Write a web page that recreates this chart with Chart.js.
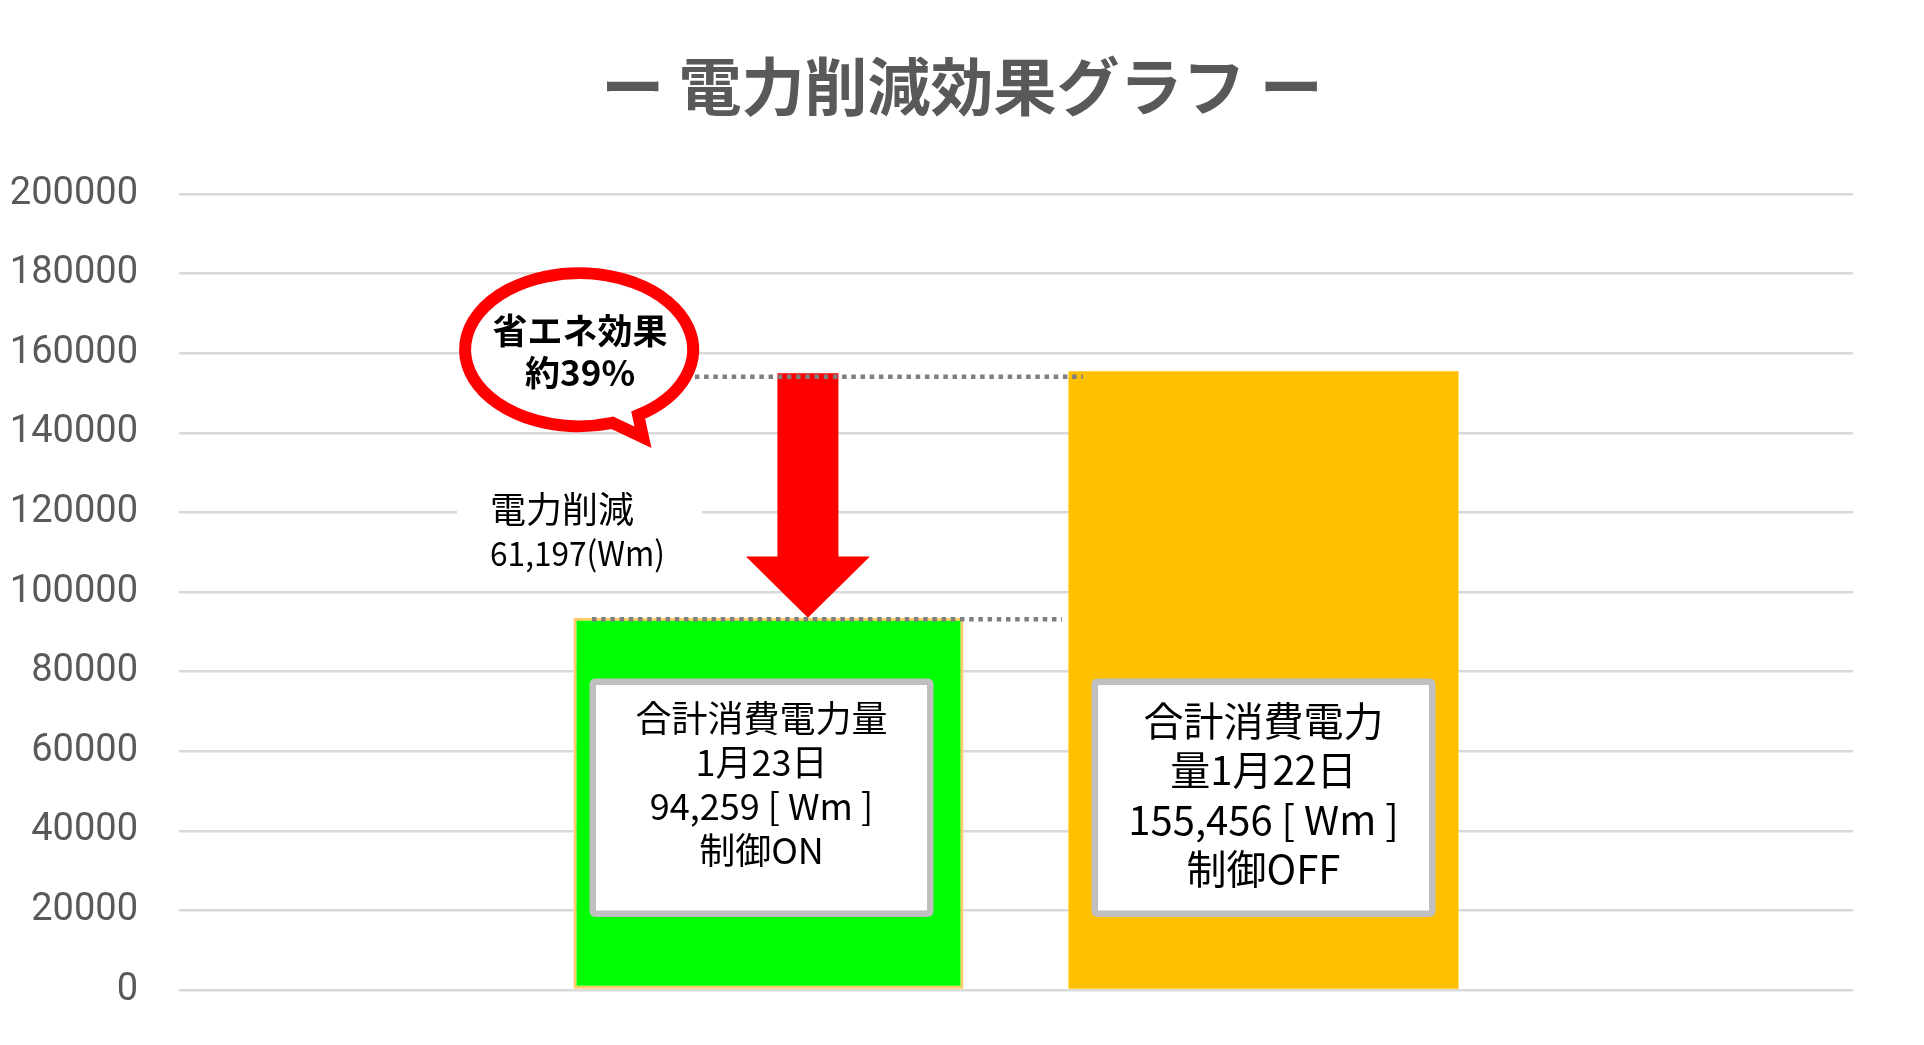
<!DOCTYPE html>
<html>
<head>
<meta charset="utf-8">
<script src="https://cdn.jsdelivr.net/npm/chart.js@4.4.1/dist/chart.umd.min.js"></script>
<style>
html,body{margin:0;padding:0;background:#ffffff;overflow:hidden}
canvas{display:block}
</style>
</head>
<body>
<canvas id="c" width="1924" height="1045" style="width:1924px;height:1045px"></canvas>
<script>
// ---- data ----
const categories = [''];
const seriesNames = ['制御ON', '制御OFF'];
const controlOnValues = [93500];
const controlOffValues = [155456];
const yTickValues = [0, 20000, 40000, 60000, 80000, 100000, 120000, 140000, 160000, 180000, 200000];
const titleText = 'ー 電力削減効果グラフ ー';
const boxLinesOn = ['合計消費電力量', '1月23日', '94,259 [ Wm ]', '制御ON'];
const boxLinesOff = ['合計消費電力', '量1月22日', '155,456 [ Wm ]', '制御OFF'];
const bubbleLines = ['省エネ効果', '約39%'];
const reductionLines = ['電力削減', '61,197(Wm)'];

const JP = "'Noto Sans CJK JP', 'Noto Sans', sans-serif";

const annotPlugin = {
  id: 'annot',
  afterDatasetsDraw(chart) {
    const ctx = chart.ctx;
    const ca = chart.chartArea;
    const ys = chart.scales.y;
    const X = f => ca.left + f * ca.width;
    const Y = v => ys.getPixelForValue(v);
    const barOn = chart.getDatasetMeta(0).data[0];
    const barOff = chart.getDatasetMeta(1).data[0];

    ctx.save();

    function roundRect(x, y, w, h, r) {
      ctx.beginPath();
      ctx.moveTo(x + r, y);
      ctx.lineTo(x + w - r, y);
      ctx.quadraticCurveTo(x + w, y, x + w, y + r);
      ctx.lineTo(x + w, y + h - r);
      ctx.quadraticCurveTo(x + w, y + h, x + w - r, y + h);
      ctx.lineTo(x + r, y + h);
      ctx.quadraticCurveTo(x, y + h, x, y + h - r);
      ctx.lineTo(x, y + r);
      ctx.quadraticCurveTo(x, y, x + r, y);
      ctx.closePath();
    }
    function drawBox(cx, lines, fontSize, gap, firstOffset) {
      const w = 344;
      const top = Y(78240), bottom = Y(18360);
      const lw = 6.5;
      roundRect(cx - w / 2 + lw / 2, top + lw / 2, w - lw, bottom - top - lw, 3);
      ctx.fillStyle = '#ffffff';
      ctx.fill();
      ctx.lineWidth = lw;
      ctx.strokeStyle = '#bfbfbf';
      ctx.stroke();
      ctx.fillStyle = '#000000';
      ctx.textAlign = 'center';
      ctx.textBaseline = 'middle';
      ctx.font = `400 ${fontSize}px ${JP}`;
      lines.forEach((t, i) => ctx.fillText(t, cx, top + firstOffset + i * gap));
    }
    drawBox(barOn.x - 7, boxLinesOn, 36, 44, 40);
    drawBox(barOff.x, boxLinesOff, 40, 49.5, 42);

    // red arrow
    const ax = X(0.3757);
    const aTop = Y(154970), aHead = Y(108930), aTip = barOn.y;
    const sh = 30.5, hh = 62;
    ctx.beginPath();
    ctx.moveTo(ax - sh, aTop);
    ctx.lineTo(ax + sh, aTop);
    ctx.lineTo(ax + sh, aHead);
    ctx.lineTo(ax + hh, aHead);
    ctx.lineTo(ax, aTip);
    ctx.lineTo(ax - hh, aHead);
    ctx.lineTo(ax - sh, aHead);
    ctx.closePath();
    ctx.fillStyle = '#ff0000';
    ctx.fill();

    // dotted level lines
    ctx.setLineDash([4.5, 4.7]);
    ctx.strokeStyle = '#7f7f7f';
    ctx.lineWidth = 4.5;
    ctx.beginPath();
    const yTop = Y(154090);
    ctx.moveTo(X(0.3082), yTop);
    ctx.lineTo(X(0.5400), yTop);
    ctx.stroke();
    ctx.beginPath();
    const yBot = barOn.y + 1.5;
    ctx.moveTo(X(0.2467), yBot);
    ctx.lineTo(X(0.5275), yBot);
    ctx.stroke();
    ctx.setLineDash([]);

    // speech bubble
    const bcx = X(0.2390), bcy = Y(160880);
    const rx = 114, ry = 76.5;
    const aR = 58.8 * Math.PI / 180, aL = 73 * Math.PI / 180;
    const tipX = X(0.2772), tipY = Y(138870);
    ctx.beginPath();
    ctx.ellipse(bcx, bcy, rx, ry, 0, aL, aR, false);
    ctx.lineTo(tipX, tipY);
    ctx.closePath();
    ctx.fillStyle = '#ffffff';
    ctx.fill();
    ctx.lineWidth = 12;
    ctx.lineJoin = 'miter';
    ctx.strokeStyle = '#ff0000';
    ctx.stroke();
    ctx.fillStyle = '#000000';
    ctx.textAlign = 'center';
    ctx.textBaseline = 'middle';
    ctx.font = `700 35px ${JP}`;
    ctx.fillText(bubbleLines[0], bcx + 1, bcy - 18.5);
    ctx.fillText(bubbleLines[1], bcx + 1, bcy + 23.5);

    // reduction label
    ctx.fillStyle = '#ffffff';
    const lx0 = X(0.1661), lx1 = X(0.3124);
    const ly0 = Y(128300), ly1 = Y(103140);
    ctx.fillRect(lx0, ly0, lx1 - lx0, ly1 - ly0);
    ctx.fillStyle = '#000000';
    ctx.textAlign = 'left';
    ctx.font = `400 36px ${JP}`;
    ctx.fillText(reductionLines[0], X(0.1858), Y(120754), 148);
    ctx.font = `400 34px ${JP}`;
    ctx.fillText(reductionLines[1], X(0.1858), Y(109690), 175);

    ctx.restore();
  }
};

new Chart(document.getElementById('c'), {
  type: 'bar',
  data: {
    labels: categories,
    datasets: [
      {
        label: seriesNames[0],
        data: controlOnValues,
        backgroundColor: '#00ff00',
        borderColor: '#ffcc66',
        borderWidth: 3,
        borderSkipped: false,
        categoryPercentage: 0.5914,
        barPercentage: 0.788
      },
      {
        label: seriesNames[1],
        data: controlOffValues,
        backgroundColor: '#ffc000',
        borderWidth: 0,
        categoryPercentage: 0.5914,
        barPercentage: 0.788
      }
    ]
  },
  options: {
    responsive: false,
    maintainAspectRatio: false,
    devicePixelRatio: 1,
    animation: false,
    layout: { padding: { left: 0, right: 0, top: 0, bottom: 55 } },
    plugins: {
      legend: { display: false },
      tooltip: { enabled: false },
      title: {
        display: true,
        text: titleText,
        color: '#595959',
        font: { family: JP, size: 63, weight: 'bold', lineHeight: 1.2 },
        padding: { top: 48.2, bottom: 70.2 }
      }
    },
    scales: {
      x: { display: false },
      y: {
        position: 'left',
        min: 0,
        max: 200000,
        afterFit(s) { s.width = 179; s.paddingBottom = 24; s.paddingTop = 24; },
        afterBuildTicks(s) { s.ticks = yTickValues.map(v => ({ value: v })); },
        border: { display: false },
        grid: { color: '#d9d9d9', lineWidth: 2.5, drawTicks: false },
        ticks: {
          padding: 41,
          color: '#595959',
          font: { family: "Roboto, 'Noto Sans', sans-serif", size: 38 },
          callback: v => String(v)
        }
      },
      yRight: {
        position: 'right',
        min: 0,
        max: 200000,
        afterFit(s) { s.width = 71; s.paddingBottom = 0; s.paddingTop = 0; },
        border: { display: false },
        grid: { display: false, drawTicks: false },
        ticks: { display: false }
      }
    }
  },
  plugins: [annotPlugin]
});
</script>
</body>
</html>
